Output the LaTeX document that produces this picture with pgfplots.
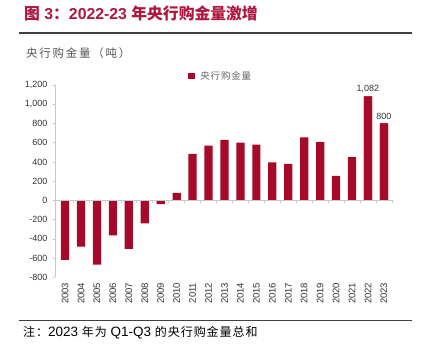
\documentclass[border=0pt]{standalone}
\usepackage{fontspec}
\setmainfont{Liberation Sans}
\newfontfamily\cjk{Noto Sans CJK SC}
\newfontfamily\cjksp[LetterSpace=15]{Noto Sans CJK SC}
\newfontfamily\cjkls[LetterSpace=8]{Noto Sans CJK SC}
\usepackage{pgfplots}
\pgfplotsset{compat=1.18}
\definecolor{barred}{HTML}{A50A28}
\definecolor{titlered}{HTML}{B0173F}
\definecolor{axgray}{HTML}{C8C8C8}
\definecolor{txtgray}{HTML}{333333}
\begin{document}
\begin{tikzpicture}[x=1pt,y=1pt]
\useasboundingbox (0,0) rectangle (421,364);
\fill[white] (0,0) rectangle (421,364);
\node[anchor=west, inner sep=0pt, text=titlered, font=\fontsize{15.8}{18}\selectfont\bfseries] at (24,351) {{\cjk 图} 3{\cjk ：}2022-23 {\cjk 年央行购金量激增}};
\draw[line width=1.2pt, color=black!75] (19,331) -- (412,331);
\node[anchor=west, inner sep=0pt, text=black!65, font=\cjksp\fontsize{11.5}{12}\selectfont] at (26,311) {央行购金量（吨）};
\begin{axis}[
  at={(55pt,86.7pt)}, anchor=south west, scale only axis,
  width=337.7pt, height=192.3pt,
  xmin=-0.63, xmax=20.55, ymin=-800, ymax=1200,
  axis lines*=left,
  x axis line style={draw=none},
  y axis line style={draw=axgray, line width=0.6pt},
  xtick={0,...,20},
  xticklabels={2003,2004,2005,2006,2007,2008,2009,2010,2011,2012,2013,2014,2015,2016,2017,2018,2019,2020,2021,2022,2023},
  x tick style={draw=none},
  ytick={-800,-600,...,1200},
  y tick style={draw=axgray, line width=0.6pt},
  tick align=outside, major tick length=2pt,
  yticklabel style={font=\fontsize{9}{10}\selectfont, text=txtgray, xshift=-2pt},
  xticklabel style={rotate=90, anchor=east, font=\fontsize{9.5}{10}\selectfont, text=txtgray},
  /pgf/number format/assume math mode=true,
  /pgf/number format/1000 sep={,},
  scaled y ticks=false,
  clip=false,
  legend style={at={(0.3947,1.048)}, anchor=west, draw=none, fill=none, inner sep=0pt,
    nodes={inner sep=0pt, text=black!60, font=\cjkls\fontsize{9.5}{10}\selectfont}, column sep=5.5pt},
]
\addplot[ybar, bar width=8.2pt, bar shift=0pt, fill=barred, draw=none,
  legend image code/.code={\fill[barred] (0pt,-3.25pt) rectangle (6.5pt,3.25pt);}]
  coordinates {(0,-620) (1,-480) (2,-668) (3,-365) (4,-505) (5,-240) (6,-38) (7,79) (8,484) (9,569) (10,629) (11,601) (12,580) (13,395) (14,379) (15,656) (16,605) (17,255) (18,450) (19,1082) (20,800)};
\addlegendentry{央行购金量}
\addplot[ybar, bar width=8.2pt, bar shift=0pt, fill=barred, draw=none, forget plot,
  nodes near coords, nodes near coords style={font=\fontsize{9}{10}\selectfont, text=txtgray}]
  coordinates {(19,1082) (20,800)};
\draw[axgray, line width=0.6pt] (axis cs:-0.63,0) -- (axis cs:20.55,0);
\pgfplotsinvokeforeach{0,...,20}{\draw[axgray, line width=0.6pt] (axis cs:#1+0.5,0) -- ++(0pt,-2.5pt);}
\end{axis}
\draw[line width=1.3pt, color=black!75] (19,43.3) -- (412,43.3);
\node[anchor=west, inner sep=0pt] at (23,31) {{\cjkls\fontsize{12}{12}\selectfont 注：}\fontsize{13.5}{14}\selectfont 2023 {\cjkls\fontsize{12}{12}\selectfont 年为} Q1-Q3 {\cjkls\fontsize{12}{12}\selectfont 的央行购金量总和}};
\end{tikzpicture}
\end{document}
